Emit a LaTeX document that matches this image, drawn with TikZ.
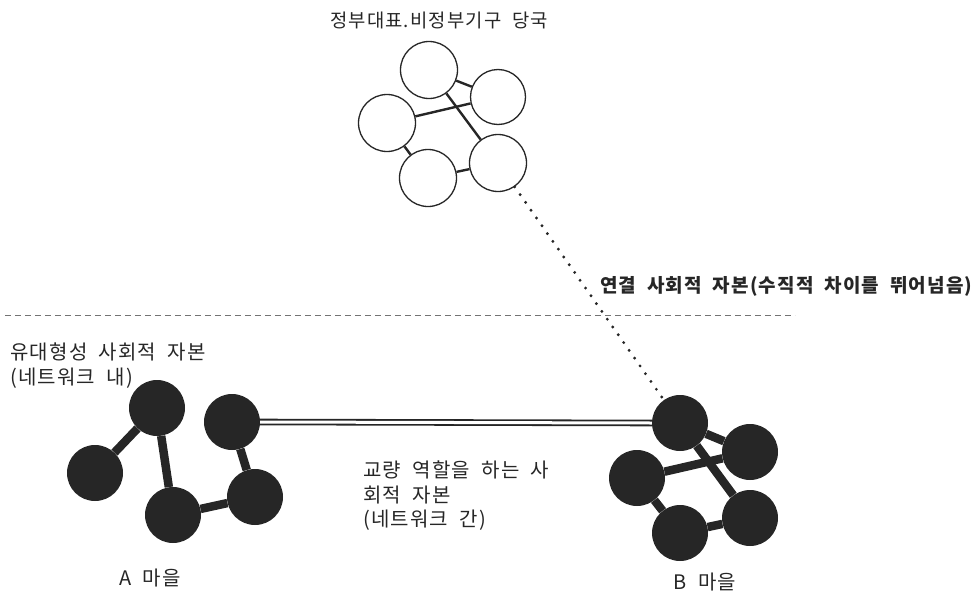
\documentclass[tikz,border=0pt]{standalone}
\usepackage{fontspec}
\newfontfamily\kr{Noto Sans CJK KR}[LetterSpace=6,WordSpace=2]
\usetikzlibrary{backgrounds}
\definecolor{dark}{HTML}{262626}
\tikzset{
  wnode/.style={circle,draw=dark,line width=1.3pt,fill=white,minimum size=57pt,inner sep=0pt},
  bnode/.style={circle,fill=dark,minimum size=56pt,inner sep=0pt},
  wedge/.style={draw=dark,line width=2.4pt},
  bedge/.style={draw=dark,line width=8.5pt},
  lbl/.style={font=\kr\fontsize{20pt}{25pt}\selectfont,text=black!85,inner sep=0pt,align=left},
}
\begin{document}
\begin{tikzpicture}[x=1pt,y=-1pt]
\useasboundingbox (0,0) rectangle (971,602);
% top group
\node[lbl,anchor=center,font=\kr\fontsize{18.8pt}{26pt}\selectfont] (title) at (439,20) {정부대표.비정부기구 당국};
\node[wnode] (c1) at (429,70) {};
\node[wnode,minimum size=55pt] (c2) at (498,97) {};
\node[wnode] (c3) at (387,123) {};
\node[wnode] (c4) at (428,178) {};
\node[wnode] (c5) at (498,163) {};
\begin{scope}[on background layer]
\draw[wedge] (c1) -- (c2);
\draw[wedge] (c3) -- (c2);
\draw[wedge] (c1) -- (c5);
\draw[wedge] (c3) -- (c4);
\draw[wedge] (c4) -- (c5);
\end{scope}
% A village
\node[bnode] (a1) at (157,408) {};
\node[bnode] (a2) at (95,473) {};
\node[bnode] (a3) at (173,515) {};
\node[bnode] (a4) at (232,422) {};
\node[bnode] (a5) at (255,497) {};
\begin{scope}[on background layer]
\draw[bedge] (a1) -- (a2);
\draw[bedge] (a1) -- (a3);
\draw[bedge] (a3) -- (a5);
\draw[bedge] (a4) -- (a5);
\end{scope}
% B village
\node[bnode] (b1) at (680,423) {};
\node[bnode] (b2) at (750,452) {};
\node[bnode] (b3) at (637,478) {};
\node[bnode] (b4) at (680,533) {};
\node[bnode] (b5) at (750,518) {};
\begin{scope}[on background layer]
\draw[bedge] (b1) -- (b2);
\draw[bedge] (b3) -- (b2);
\draw[bedge] (b1) -- (b5);
\draw[bedge] (b3) -- (b4);
\draw[bedge] (b4) -- (b5);
\end{scope}
% connectors
\draw[dark,line width=1.8pt,double=white,double distance=3pt] (a4.east) -- (b1.west);
\draw[dark,line width=3.2pt,line cap=round,dash pattern=on 0pt off 9.5pt] (c5) -- (b1);
\coordinate (hl) at (5,315);
\coordinate (hr) at (795,315);
\draw[black!55,line width=1pt,dash pattern=on 6pt off 4pt] (hl) -- (hr);
% labels
\node[lbl,anchor=west,font=\kr\bfseries\fontsize{19pt}{26pt}\selectfont] (link) at (600,286) {연결 사회적 자본(수직적 차이를 뛰어넘음)};
\node[lbl,anchor=north west] (bond) at (10,343) {유대형성 사회적 자본\\(네트워크 내)};
\node[lbl,anchor=north west,font=\kr\fontsize{20pt}{24.5pt}\selectfont] (bridge) at (363,461) {교량 역할을 하는 사\\회적 자본\\(네트워크 간)};
\node[lbl,anchor=center] (la) at (150,578) {A 마을};
\node[lbl,anchor=center] (lb) at (705,582) {B 마을};
\end{tikzpicture}
\end{document}
